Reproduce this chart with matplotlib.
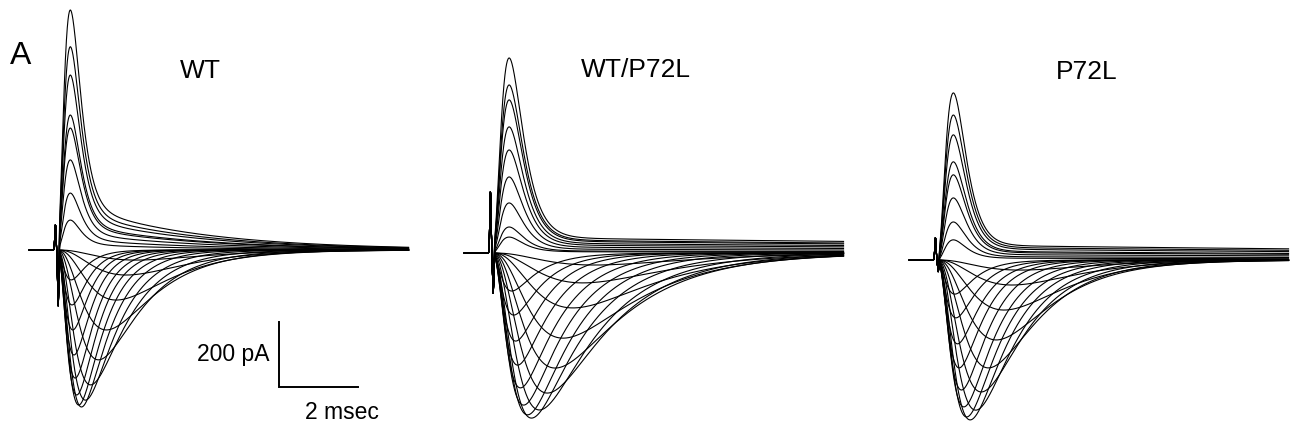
import numpy as np
import matplotlib
matplotlib.use("Agg")
import matplotlib.pyplot as plt

plt.rcParams['font.family'] = ['Liberation Sans', 'DejaVu Sans']

# Peak currents (pA) of the inward Na+ traces, threshold -> reversal
wt_in_peak = [31, 77, 154, 246, 338, 415, 462, 483, 477, 446, 394, 323, 246, 169, 92]
het_in_peak = [37, 92, 169, 262, 354, 431, 483, 508, 498, 468, 415, 345, 271, 191, 117]
mut_in_peak = [31, 77, 154, 246, 332, 406, 462, 492, 483, 452, 400, 332, 258, 178, 105]

# time to peak (ms after the step) of the inward traces
wt_in_tpeak = [2.0, 1.75, 1.5, 1.25, 1.05, 0.85, 0.72, 0.62, 0.55, 0.5, 0.46, 0.43, 0.4, 0.38, 0.36]
het_in_tpeak = [2.6, 2.3, 2.05, 1.8, 1.6, 1.4, 1.2, 1.0, 0.9, 0.8, 0.72, 0.65, 0.6, 0.55, 0.5]
mut_in_tpeak = [2.1, 1.9, 1.7, 1.5, 1.3, 1.12, 0.98, 0.84, 0.75, 0.68, 0.62, 0.56, 0.52, 0.48, 0.45]

# inactivation time constants (ms) of the inward traces
wt_in_tau = [1.5, 1.4, 1.3, 1.2, 1.05, 0.92, 0.8, 0.7, 0.62, 0.55, 0.5, 0.45, 0.42, 0.4, 0.38]
het_in_tau = [2.2, 2.1, 2.0, 1.9, 1.8, 1.65, 1.5, 1.35, 1.2, 1.1, 1.0, 0.9, 0.8, 0.75, 0.7]
mut_in_tau = [1.6, 1.5, 1.4, 1.3, 1.2, 1.1, 1.0, 0.92, 0.85, 0.78, 0.7, 0.64, 0.6, 0.56, 0.52]

# outward traces above reversal: peak (pA), time to peak / decay (ms)
wt_out_peak = [92, 175, 277, 375, 415, 538, 625, 738]
het_out_peak = [49, 80, 154, 234, 317, 388, 471, 517, 600]
mut_out_peak = [62, 117, 191, 262, 302, 385, 446, 514]
out_tpeak = {'WT': 0.33, 'WT/P72L': 0.43, 'P72L': 0.41}
out_tau = {'WT': 0.2, 'WT/P72L': 0.3, 'P72L': 0.25}
# slow outward component (fraction of peak) and its decay (ms)
out_slow_frac = {'WT': 0.22, 'WT/P72L': 0.08, 'P72L': 0.09}
out_slow_tau = {'WT': 3.0, 'WT/P72L': 30.0, 'P72L': 30.0}

# capacitive transient at the step (pA up / down)
artifact_up = {'WT': 77, 'WT/P72L': 188, 'P72L': 68}
artifact_down = {'WT': 170, 'WT/P72L': 123, 'P72L': 35}

W, H = 1297, 434
PX_PER_MS = 79 / 2.0
PX_PER_PA = 65 / 200.0
T_MIN, T_MAX = -0.8, 9.0
I_MIN, I_MAX = -560, 780

t = np.linspace(-0.7, 8.9, 3000)


def kinetic(t, peak, t_peak, tau_h):
    # m^3 h waveform that reaches `peak` at t_peak
    lo, hi = 1e-4, 50.0
    for _ in range(80):
        mid = 0.5 * (lo + hi)
        if mid * np.log((3 * tau_h + mid) / mid) < t_peak:
            lo = mid
        else:
            hi = mid
    tau_m = 0.5 * (lo + hi)
    tt = np.clip(t, 0, None)
    g = (1 - np.exp(-tt / tau_m)) ** 3 * np.exp(-tt / tau_h)
    gp = (1 - np.exp(-t_peak / tau_m)) ** 3 * np.exp(-t_peak / tau_h)
    return peak * g / gp


def slow(t, amp, tau):
    tt = np.clip(t, 0, None)
    return amp * (1 - np.exp(-tt / 0.25)) * np.exp(-tt / tau)


panels = [
    ('WT', wt_in_peak, wt_in_tpeak, wt_in_tau, wt_out_peak, (57, 250), (200, 71)),
    ('WT/P72L', het_in_peak, het_in_tpeak, het_in_tau, het_out_peak, (492, 253), (636, 70)),
    ('P72L', mut_in_peak, mut_in_tpeak, mut_in_tau, mut_out_peak, (937, 260), (1087, 72)),
]

fig = plt.figure(figsize=(W / 100, H / 100), dpi=100)
fig.patch.set_facecolor('white')

axes = {}
for name, in_peak, in_tp, in_tau, out_peak, (x0, y0), (tx, ty) in panels:
    left = x0 + T_MIN * PX_PER_MS
    top = y0 - I_MAX * PX_PER_PA
    w = (T_MAX - T_MIN) * PX_PER_MS
    h = (I_MAX - I_MIN) * PX_PER_PA
    ax = fig.add_axes([left / W, 1 - (top + h) / H, w / W, h / H])
    ax.set_xlim(T_MIN, T_MAX)
    ax.set_ylim(I_MIN, I_MAX)
    ax.axis('off')
    axes[name] = ax

    art = (artifact_up[name] * np.exp(-((t + 0.04) / 0.022) ** 2)
           - artifact_down[name] * np.exp(-((t - 0.03) / 0.022) ** 2))

    # inward family
    for a, tp, th in zip(in_peak, in_tp, in_tau):
        y = -kinetic(t, a, tp, th) + art
        ax.plot(t, y, color='black', lw=0.8, clip_on=False)

    # outward family
    for a in out_peak:
        s_amp = out_slow_frac[name] * a
        tp = out_tpeak[name]
        s = slow(t, s_amp, out_slow_tau[name])
        fast_amp = a - slow(np.array([tp]), s_amp, out_slow_tau[name])[0]
        y = kinetic(t, fast_amp, tp, out_tau[name]) + s + art
        ax.plot(t, y, color='black', lw=0.8, clip_on=False)

    fig.text(tx / W, 1 - ty / H, name, ha='center', va='center', fontsize=19)

# scale bar
bar_t, bar_i = 5.62, -421.5
bar_ms, bar_pa = 2.0, 200
ax = axes['WT']
ax.plot([bar_t, bar_t, bar_t + bar_ms], [bar_i + bar_pa, bar_i, bar_i],
        color='black', lw=1.4, solid_joinstyle='miter', clip_on=False)
ax.text(bar_t - 0.23, bar_i + bar_pa / 2, f'{bar_pa} pA', ha='right', va='center', fontsize=16.5)
ax.text(bar_t + 1.6, bar_i - 77, f'{bar_ms:g} msec', ha='center', va='center', fontsize=16.5)

fig.text(21 / W, 1 - 56 / H, 'A', ha='center', va='center', fontsize=23)

fig.savefig('out.png', dpi=100, facecolor='white')
